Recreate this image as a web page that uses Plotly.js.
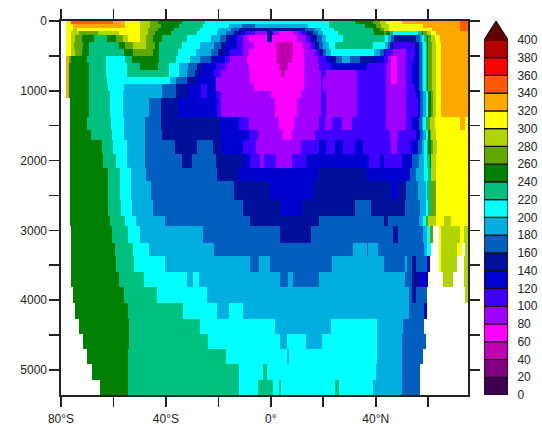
<!DOCTYPE html>
<html><head><meta charset="utf-8">
<script src="https://cdn.plot.ly/plotly-3.0.1.min.js"></script>
<style>html,body{margin:0;padding:0;background:#fff}</style></head>
<body><div id="chart" style="width:542px;height:427px"></div>
<script>
// Band midpoints (units of the colour scale); W = no data (ocean floor / land)
const W=null,V=50,M=70,P=90,I=110,E=130,N=150,B=170,S=190,C=210,T=230,D=250,G=270,L=290,Y=310,O=330,R=350;
const limbA=[56.5,B,57.5,S,58,C,59,T,59.5,D,60,G,61.5,L,63,Y,65,O,75.2];
const depthEdges=[0,50,100,150,200,300,400,500,600,700,800,900,1000,1100,1370,1560,1700,1900,2110,2300,2560,2800,2940,3180,3370,3600,3810,4040,4270,4490,4700,4920,5150,5360];
// One list per depth row: latitude, band, latitude, band, ... closing latitude
const rowRuns=[
[-78,Y,-76,R,-60,O,-55.5,Y,-50,L,-46,G,-43,D,-34,T,-25,C,22,T,32,D,39,G,41.5,L,44,Y,50,O,72,R,75.2],
[-78,Y,-75.5,O,-55.5,Y,-50,L,-46,G,-42,D,-35,T,-26,C,-16,S,-11,B,-6,S,14,C,22,T,36,D,40,G,42,L,45,Y,58,O,72,R,75.2],
[-78,Y,-75.5,L,-74,Y,-50,L,-47,G,-43,D,-37,T,-27,C,-20,S,-15,B,-12,N,13,B,17,S,19,C,24,T,39,D,41.5,G,43,L,45,Y,61.5,O,72,R,75.2],
[-78,Y,-76,L,-73,G,-66,L,-58,Y,-50,L,-47,G,-44,D,-38,T,-28,C,-20.5,S,-17,B,-14,N,-12,E,-10,I,-6,P,-1.5,N,1,P,3,M,8.5,P,11,I,13.5,N,16,B,18,S,20,C,25.5,T,39.5,D,43,G,44,D,45.5,T,46.5,C,56,T,57.5,D,58,G,59.5,L,61,Y,63,O,75.2],
[-78,Y,-76,L,-74.5,G,-72,D,-67.5,T,-62.5,D,-59,G,-56.5,L,-54.5,Y,-50,L,-47.5,G,-45,D,-41.5,T,-32,C,-23,S,-19.5,B,-17,N,-15,E,-13,I,-10.5,P,-8.5,M,-1.5,N,0.5,M,10,P,13.5,I,15.5,N,17.5,B,19.5,S,21,C,27.5,T,43.5,C,44.5,S,46,B,47,N,55.5,B,57,S,57.5,C,58.5,T,59.5,D,60,G,61,L,62.5,Y,64.5,O,75.2],
[-78,Y,-76,L,-75,G,-71.5,D,-69.5,T,-58,D,-55.5,G,-52.5,L,-47.5,G,-44,D,-42.5,T,-34,C,-27,S,-21.5,B,-19,N,-17,E,-13,I,-10.5,P,-6.5,M,2,V,8.5,M,12,P,15,I,17,N,18.5,B,20,S,22,C,24.5,T,39,C,43.5,S,44.5,B,45.5,N,46.5,I,55,N,56.5,B,57.5,S,58,C,59,T,59.5,D,60,G,61.5,L,63,Y,65,O,75.2],
[-78,Y,-76,L,-74.5,G,-72,D,-69.5,T,-56,D,-52.5,G,-45,D,-42.5,T,-35.5,C,-28.5,S,-23,B,-20,N,-17.5,E,-15.5,I,-10.5,P,-8.5,M,2,V,8.5,M,12.5,P,17,I,18.5,N,20,B,21,S,23,C,39.5,S,41.5,B,43,N,43.5,I,46.5,P,51.5,I,55,E,...limbA],
[-78,O,-77,G,-76,D,-70,T,-63,C,-55.5,T,-53,D,-42.5,T,-36,C,-31,S,-27,B,-23,N,-21.5,E,-17.5,I,-15.5,P,-9,M,2,V,8,M,12.5,P,18,I,21,E,23,N,25,B,27,S,30,B,34,N,39.5,E,43,I,44.5,P,46,M,48,P,51.5,I,54.5,E,...limbA],
[-78,O,-77,D,-69.5,T,-63,C,-55,T,-50,D,-43,T,-39,C,-35,S,-31.5,B,-28,N,-26,E,-21,I,-17,P,-8.5,M,3,V,6.5,M,12.5,P,18.5,I,23,E,36.5,I,44,P,46,M,48,P,51.5,I,54,E,...limbA],
[-78,O,-77,D,-69.5,T,-63,C,-55,T,-39,C,-35,S,-32,B,-29,N,-27,E,-21.5,I,-19,P,-8,M,4,V,5.5,M,12.5,P,19,I,21,P,33,I,44,P,46,M,48,P,51.5,I,54,E,...limbA],
[-78,O,-77,D,-69.5,T,-62.5,C,-38.5,S,-36,B,-32,N,-28.5,E,-21,P,-8,M,12.5,P,19,I,20,P,33,I,44,P,46,M,48,P,51.5,I,54,E,...limbA],
[-78,O,-77,D,-69.5,T,-62,C,-56,S,-41.5,B,-36,N,-31.5,E,-26.5,I,-24.5,E,-21,P,-6.5,M,12.5,P,19,I,20,P,33,I,44,P,51.5,I,55,E,...limbA],
[-78,O,-77,D,-69.5,T,-61.5,C,-56.5,S,-41.5,B,-36,N,-31.5,E,-26.5,I,-24.5,E,-21,I,-19,P,0,M,11.5,P,19,I,21,P,33,I,44,P,51.5,I,55.5,E,57,B,58,S,59,C,60,D,61,G,62,L,63,Y,65,O,75.2],
[-76.5,D,-69.5,T,-61.5,C,-56.5,S,-46.5,B,-42,N,-35.5,E,-20.5,I,-19,P,1.5,M,10,P,19,I,21,P,33,I,44,P,51.5,I,56,E,57,B,58,S,59,C,60,D,61,G,62,L,63,Y,65,O,75.2],
[-76.5,D,-70,T,-61,C,-56,S,-48,B,-42,N,-19.5,E,-12,I,-8.5,P,3,M,9,P,18.5,I,20.5,P,23.5,I,27,P,31,I,44,P,51.5,I,54,E,56.5,B,57.5,S,58,C,59,T,59.5,G,60.5,L,62.5,Y,72,O,74,Y,75.2],
[-76.5,D,-68.5,T,-60.5,C,-56,S,-48,B,-41.5,N,-19.5,E,-8.5,I,-5,P,4.5,M,8,P,17,I,45.5,P,48.5,I,55.5,E,57,B,58,S,59,C,60,D,60.5,G,61,L,63,Y,75.2],
[-76.5,D,-64.5,T,-60,C,-55,S,-48,B,-36.5,N,-28,B,-22,N,-19,E,-10.5,I,-5.5,P,11.5,I,18.5,E,21,I,24.5,E,27.5,I,32,E,35,I,46,P,48,I,53.5,E,56,B,57.5,S,58.5,C,59.5,T,60,D,61,G,62,L,63.5,Y,75.2],
[-76.5,D,-64,T,-59,C,-55,S,-48,B,-34,N,-30,B,-21,N,-10.5,E,-8,I,-4,P,-2.5,I,2,P,8,I,13.5,E,37.5,I,41.5,E,43,I,50,E,54,B,56.5,S,58.5,C,59.5,T,60.5,D,61,L,63,Y,75.2],
[-76.5,D,-62,T,-57.5,C,-53.5,S,-47.5,B,-20.5,N,-12,E,18,N,36.5,E,53,B,55.5,S,58.5,C,60,T,61,L,63,Y,75.2],
[-76.5,D,-62,T,-57.5,C,-53.5,S,-45.5,B,-14,N,-0.5,E,16,N,46,E,48.5,N,51.5,B,56,S,59,C,59.5,T,60.5,G,63,Y,75.2],
[-76.5,D,-62,T,-57,C,-53,S,-45,B,-10.5,N,4,E,12,N,32,B,38,N,51,B,57,S,59,C,60,T,60.5,G,63,Y,75.2],
[-76.5,D,-61.5,T,-55.5,C,-51.5,S,-40.5,B,-8,N,18.5,B,43,N,44.5,B,56.5,S,58,C,59,T,59.5,G,60,L,63,Y,66,L,68.5,Y,75.2],
[-76,D,-60.5,T,-54.5,C,-50,S,-26,B,3.5,N,15.5,B,46.5,N,48.5,B,58,S,59.5,C,60.5,G,62,W,64,Y,65,L,72,Y,73.5,L,75.2],
[-76,D,-59.5,T,-52.5,C,-46.5,S,-21.5,B,31.5,S,36.5,B,37,S,41,B,58.5,S,59.5,C,61,W,64,Y,65,L,71,Y,73,W,74,L,75.2],
[-76,D,-59,T,-52,C,-40.5,S,-8,B,-4.5,S,-0.5,B,23.5,S,43,B,51,S,52,B,54,N,55.5,B,59.5,E,60.5,W,64,Y,65,L,71,W,73.5,L,75.2],
[-76,D,-58,T,-48.5,C,-32,S,-29.5,C,-27.5,S,3.5,B,6.5,S,8.5,B,18.5,S,51,B,54,N,57,E,60,W,65.5,L,69.5,W,73.5,L,75.2],
[-75.5,D,-56,T,-43.5,C,-24.5,S,52.5,B,54,N,55.5,B,59.5,W,74,L,75,W,75.2],
[-74.5,D,-54.5,T,-33.5,C,-20.5,S,-16,C,-10.5,S,52.5,B,58.5,E,59.5,W,75.2],
[-73,D,-54,T,-27,C,1.5,S,23,C,40.5,S,50.5,B,58.5,W,75.2],
[-71.5,D,-54,T,-24,C,3.5,S,6,C,13.5,S,19.5,C,40.5,S,50,B,59,W,75.2],
[-70,D,-54.5,T,-17,C,6,S,7,C,40.5,S,50,B,58,W,75.2],
[-68,D,-54.5,T,-12,C,-3,T,-1.5,C,40,S,50,B,57,W,75.2],
[-65,D,-54.5,T,-12,C,-5,T,1,C,3,T,4,C,24.5,T,26,C,39,S,50,B,57,W,75.2]
];
const bandColors=['#400050','#800080','#c000b0','#ff00ff','#a000ff','#4000ff','#0000d0','#00109a','#005fbf','#00aee0','#00ffff','#00c080','#008000','#60a800','#b0d400','#ffff00','#ffa800','#ff5a00','#ff0000','#b40000','#600000'];
const barLevels=[0,20,40,60,80,100,120,140,160,180,200,220,240,260,280,300,320,340,360,380];
const capValues=[400,421,400];
const depthTicks=[0,500,1000,1500,2000,2500,3000,3500,4000,4500,5000];
const depthLabels=['0','','1000','','2000','','3000','','4000','','5000'];
const latTicks=[-80,-60,-40,-20,0,20,40,60];
const latLabels=['80°S','','40°S','','0°','','40°N',''];
const colorLabels=[0,20,40,60,80,100,120,140,160,180,200,220,240,260,280,300,320,340,360,380,400];

const latEdges=[];for(let a=-80;a<=75.5;a+=0.5)latEdges.push(a);
const z=rowRuns.map(run=>{
  const out=[];
  for(let k=0;k<latEdges.length-1;k++){
    const c=latEdges[k]+0.25;let v=null;
    for(let j=0;j+2<run.length;j+=2){if(c>=run[j]&&c<run[j+2]){v=run[j+1];break;}}
    out.push(v);
  }
  return out;
});
const n=bandColors.length,scale=[];
bandColors.forEach((c,i)=>{scale.push([i/n,c]);scale.push([(i+1)/n,c]);});
const ink='#222';
const txt={family:'Liberation Sans, Arial, sans-serif',size:12,color:ink};
const data=[
 {type:'heatmap',x:latEdges,y:depthEdges,z:z,zmin:0,zmax:420,colorscale:scale,showscale:false,hoverongaps:false,zsmooth:false},
 {type:'bar',x:barLevels.map(()=>0.5),y:barLevels.map(()=>20),base:barLevels,width:1,xaxis:'x2',yaxis:'y2',
  marker:{color:bandColors.slice(0,20),line:{color:'#111',width:1.2}},showlegend:false},
 {type:'scatter',mode:'lines',x:[0,0.5,1],y:capValues,xaxis:'x2',yaxis:'y2',fill:'toself',fillcolor:bandColors[20],
  line:{color:'#111',width:1.2},showlegend:false}
];
const layout={
 width:542,height:427,paper_bgcolor:'#fff',plot_bgcolor:'#fff',showlegend:false,barmode:'overlay',
 margin:{l:60.5,r:0,t:20.5,b:31.5},font:txt,
 xaxis:{domain:[0,407.5/481.5],range:[-80,75.2],tickvals:latTicks,ticktext:latLabels,ticks:'outside',ticklen:10,tickwidth:1.6,tickcolor:ink,
   showline:true,linecolor:ink,linewidth:1.6,mirror:'ticks',showgrid:false,zeroline:false,tickfont:txt,tickangle:0,ticklabelstandoff:2},
 yaxis:{domain:[0,1],range:[5360,0],tickvals:depthTicks,ticktext:depthLabels,ticks:'outside',ticklen:10,tickwidth:1.6,tickcolor:ink,
   showline:true,linecolor:ink,linewidth:1.6,mirror:'ticks',showgrid:false,zeroline:false,tickfont:txt},
 xaxis2:{domain:[423.5/481.5,447.5/481.5],range:[0,1],visible:false,anchor:'y2'},
 yaxis2:{domain:[0,1],range:[0,421.3],anchor:'x2',side:'right',tickvals:colorLabels,ticktext:colorLabels.map(String),ticks:'outside',ticklen:6,tickcolor:'rgba(0,0,0,0)',
   showline:false,showgrid:false,zeroline:false,tickfont:txt}
};
Plotly.newPlot('chart',data,layout,{displayModeBar:false,staticPlot:true});
</script></body></html>
